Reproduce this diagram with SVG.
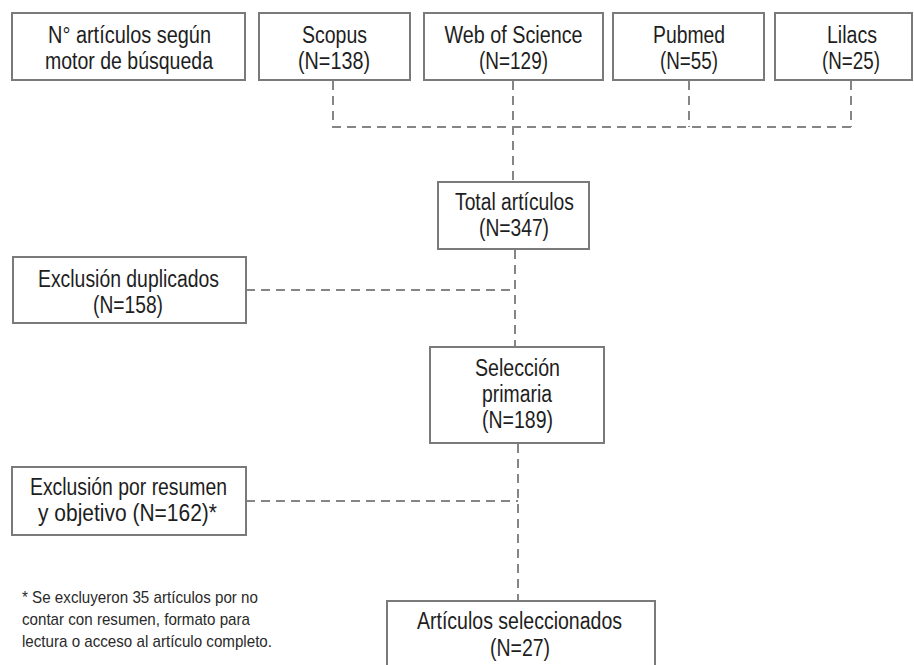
<svg xmlns="http://www.w3.org/2000/svg" width="914" height="665" viewBox="0 0 914 665">
<style>
.box{fill:#fff;stroke:#7a7a7a;stroke-width:2}
.t{font-family:"Liberation Sans",Arial,sans-serif;font-size:23px;fill:#1e1e1e;text-anchor:middle}
.f{font-family:"Liberation Sans",Arial,sans-serif;font-size:17px;fill:#2a2a2a}
.c{fill:none;stroke:#858585;stroke-width:2;stroke-dasharray:9 6}
</style>
<rect width="914" height="665" fill="#fff"/>
<g id="connectors">
<path class="c" d="M333 81V127H851"/>
<path class="c" d="M689 81V127"/>
<path class="c" d="M851 81V127"/>
<path class="c" d="M513 81V182"/>
<path class="c" d="M515 250V347"/>
<path class="c" d="M246 290H515"/>
<path class="c" d="M518 444V601"/>
<path class="c" d="M246 501H518"/>
</g>
<g id="n-motor">
<rect class="box" x="12" y="13" width="233" height="67"/>
<text class="t" x="129.5" y="43" textLength="163" lengthAdjust="spacingAndGlyphs">N° artículos según</text>
<text class="t" x="129" y="69" textLength="168" lengthAdjust="spacingAndGlyphs">motor de búsqueda</text>
</g>
<g id="n-scopus">
<rect class="box" x="259" y="13" width="151" height="67"/>
<text class="t" x="334.5" y="43" textLength="65" lengthAdjust="spacingAndGlyphs">Scopus</text>
<text class="t" x="334" y="69" textLength="72" lengthAdjust="spacingAndGlyphs">(N=138)</text>
</g>
<g id="n-wos">
<rect class="box" x="424" y="13" width="179" height="67"/>
<text class="t" x="513.5" y="43" textLength="138" lengthAdjust="spacingAndGlyphs">Web of Science</text>
<text class="t" x="513.5" y="69" textLength="69" lengthAdjust="spacingAndGlyphs">(N=129)</text>
</g>
<g id="n-pubmed">
<rect class="box" x="613" y="13" width="151" height="67"/>
<text class="t" x="689" y="43" textLength="72" lengthAdjust="spacingAndGlyphs">Pubmed</text>
<text class="t" x="689" y="69" textLength="58" lengthAdjust="spacingAndGlyphs">(N=55)</text>
</g>
<g id="n-lilacs">
<rect class="box" x="775" y="13" width="137" height="67"/>
<text class="t" x="852" y="43" textLength="50" lengthAdjust="spacingAndGlyphs">Lilacs</text>
<text class="t" x="851" y="69" textLength="58" lengthAdjust="spacingAndGlyphs">(N=25)</text>
</g>
<g id="n-total">
<rect class="box" x="438" y="182" width="151" height="67"/>
<text class="t" x="514.5" y="210" textLength="119" lengthAdjust="spacingAndGlyphs">Total artículos</text>
<text class="t" x="514" y="236" textLength="70" lengthAdjust="spacingAndGlyphs">(N=347)</text>
</g>
<g id="n-dup">
<rect class="box" x="13" y="257" width="233" height="66"/>
<text class="t" x="128.5" y="287" textLength="181" lengthAdjust="spacingAndGlyphs">Exclusión duplicados</text>
<text class="t" x="128" y="313" textLength="70" lengthAdjust="spacingAndGlyphs">(N=158)</text>
</g>
<g id="n-sel">
<rect class="box" x="430" y="347" width="174" height="96"/>
<text class="t" x="517.5" y="376" textLength="85" lengthAdjust="spacingAndGlyphs">Selección</text>
<text class="t" x="517" y="402" textLength="70" lengthAdjust="spacingAndGlyphs">primaria</text>
<text class="t" x="517.5" y="428" textLength="71" lengthAdjust="spacingAndGlyphs">(N=189)</text>
</g>
<g id="n-res">
<rect class="box" x="12" y="467" width="234" height="68"/>
<text class="t" x="128.5" y="495" textLength="197" lengthAdjust="spacingAndGlyphs">Exclusión por resumen</text>
<text class="t" x="127.5" y="521" textLength="179" lengthAdjust="spacingAndGlyphs">y objetivo (N=162)*</text>
</g>
<g id="n-final">
<rect class="box" x="387" y="601" width="268" height="70"/>
<text class="t" x="519.5" y="629" textLength="205" lengthAdjust="spacingAndGlyphs">Artículos seleccionados</text>
<text class="t" x="520" y="656" textLength="60" lengthAdjust="spacingAndGlyphs">(N=27)</text>
</g>
<g id="note">
<text class="f" x="22" y="603" textLength="236" lengthAdjust="spacingAndGlyphs">* Se excluyeron 35 artículos por no</text>
<text class="f" x="22" y="625" textLength="228" lengthAdjust="spacingAndGlyphs">contar con resumen, formato para</text>
<text class="f" x="22" y="647" textLength="250" lengthAdjust="spacingAndGlyphs">lectura o acceso al artículo completo.</text>
</g>
</svg>
